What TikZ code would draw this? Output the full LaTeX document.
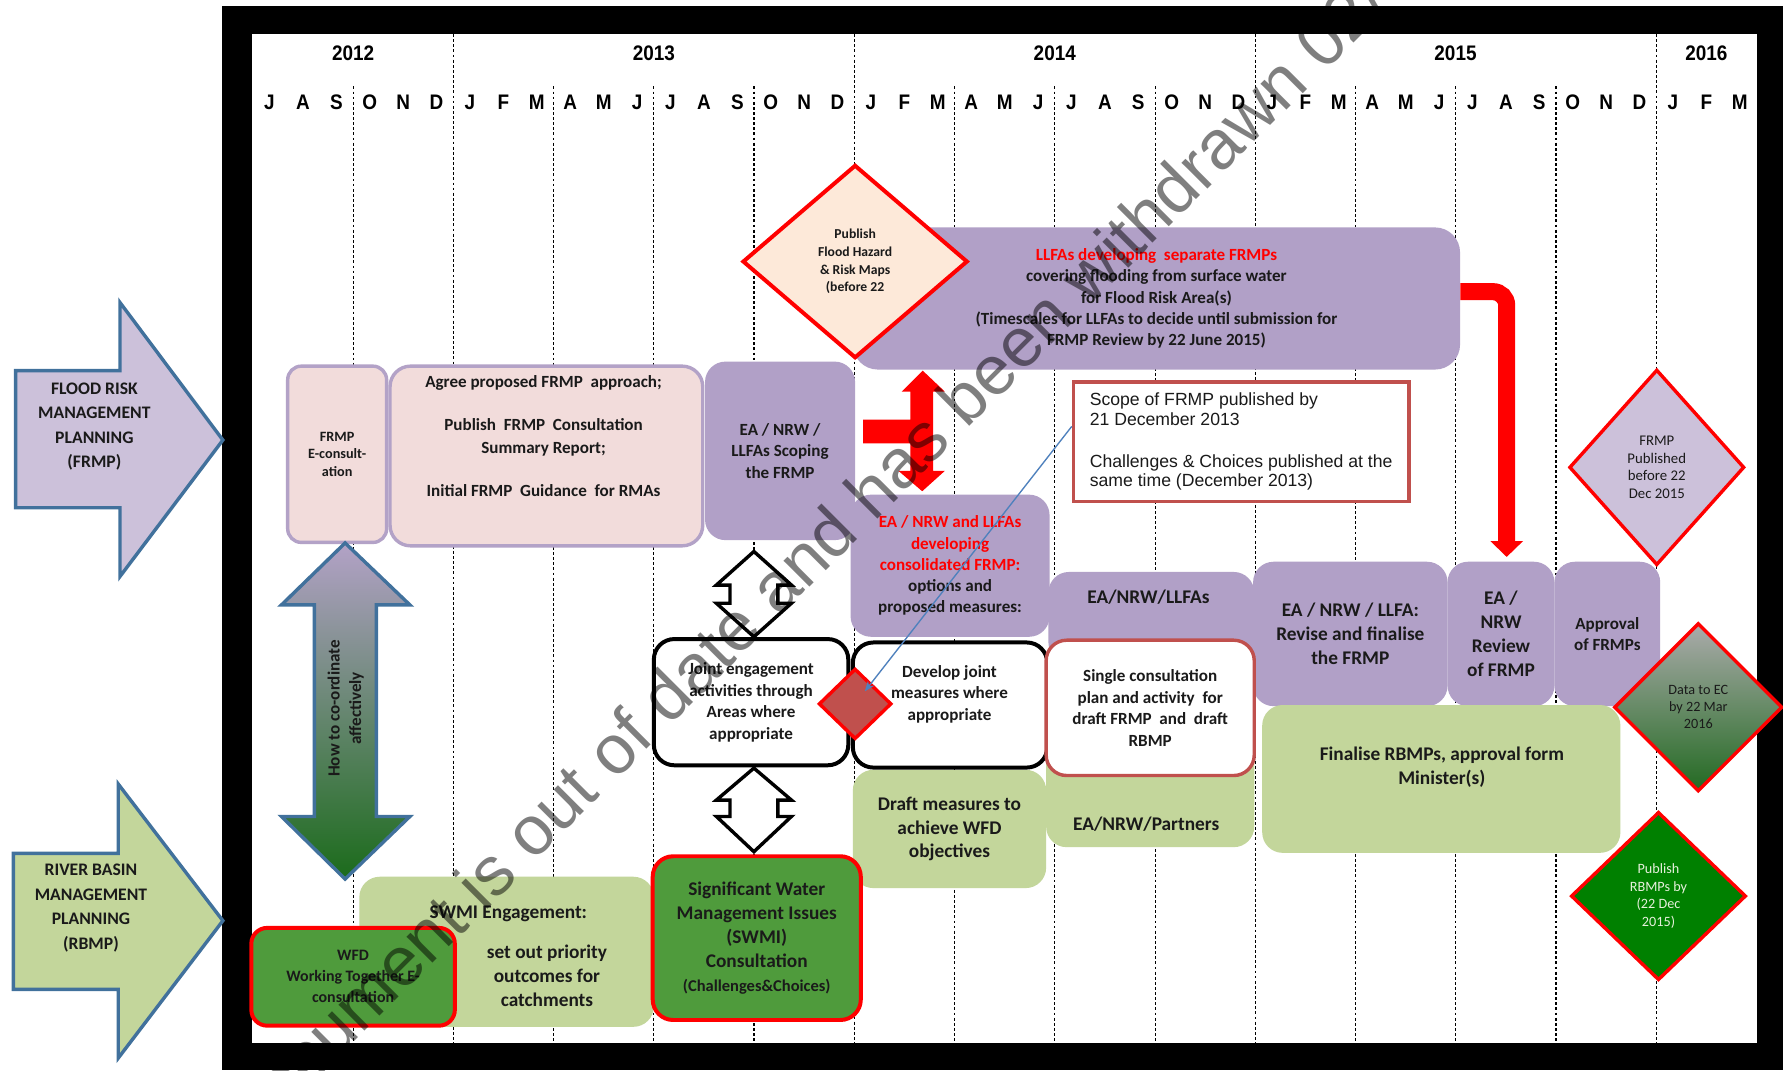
\documentclass[tikz,border=0pt]{standalone}
\usepackage{fontspec}
\setmainfont{Carlito}
\newfontfamily\arialfont{Liberation Sans}
\newfontfamily\narrowfont[FakeStretch=0.9]{Liberation Sans}
\usetikzlibrary{arrows.meta,shapes.geometric}
\newcommand\setfs[2]{\fontsize{#1}{#2}\selectfont}
\definecolor{purp}{HTML}{B1A0C7}
\definecolor{lav}{HTML}{CCC1DA}
\definecolor{lavline}{HTML}{B3A2C7}
\definecolor{pinkfill}{HTML}{F2DCDB}
\definecolor{lgreen}{HTML}{C3D69B}
\definecolor{mgreen}{HTML}{4F9B3C}
\definecolor{dgreen}{HTML}{008000}
\definecolor{dred}{HTML}{C0504D}
\definecolor{peach}{HTML}{FDE9D9}
\definecolor{arrowblue}{HTML}{41719C}
\definecolor{connblue}{HTML}{4F81BD}
\definecolor{txt}{HTML}{1A1A1A}
\definecolor{gtop}{HTML}{B3A2C7}
\definecolor{gmid}{HTML}{98AD78}
\definecolor{gbot}{HTML}{1B6B1B}
\definecolor{dtop}{HTML}{ABABAB}
\definecolor{dmid}{HTML}{86A764}
\definecolor{dbot}{HTML}{236A22}
\definecolor{paletext}{HTML}{E6F0DC}
\begin{document}
\begin{tikzpicture}[x=1pt,y=-1pt,
  bx/.style={rounded corners=18pt, inner sep=0pt, align=center, text=txt},
  pbox/.style={bx, fill=purp},
  gbox/.style={bx, fill=lgreen},
  wbox/.style={bx, fill=white, draw=black, line width=3.5pt},
  txtst/.style={inner sep=0pt, align=center, text=txt},
  dia/.style={diamond, inner sep=0pt, align=center, draw=red, line width=3.5pt, text=txt},
  monthst/.style={inner sep=0pt, font=\narrowfont\bfseries\setfs{18.5}{18.5}},
  gridln/.style={line width=1pt, dash pattern=on 2.5pt off 2pt},
  bigarrow/.style={draw=arrowblue, line width=3pt, line join=miter},
  hollowarr/.style={draw=black, fill=white, line width=3pt, line join=miter}]
\useasboundingbox (0,0) rectangle (1568,941);
% frame
\fill[black] (195,5) rectangle (1568,941);
\fill[white] (222,30) rectangle (1545,917);
% grid lines
\foreach \x in {398.6,751.3,1103.9,1456.6} \draw[gridln] (\x,30) -- (\x,917);
\foreach \x in {310.5,486.8,575.0,663.1,839.5,927.6,1015.8,1192.1,1280.3,1368.4} \draw[gridln] (\x,76) -- (\x,917);
% years and months
\node[monthst] (y2012) at (310.5,47) {2012};
\node[monthst] (y2013) at (575,47) {2013};
\node[monthst] (y2014) at (927.6,47) {2014};
\node[monthst] (y2015) at (1280,47) {2015};
\node[monthst] (y2016) at (1500.6,47) {2016};
\foreach \m [count=\i from 0] in {J,A,S,O,N,D,J,F,M,A,M,J,J,A,S,O,N,D,J,F,M,A,M,J,J,A,S,O,N,D,J,F,M,A,M,J,J,A,S,O,N,D,J,F,M}
  \node[monthst] (mon\i) at ({237+\i*29.386},90) {\m};
% left arrows
\draw[bigarrow, fill=lav] (13.8,326) -- (105.5,326) -- (105.5,266) -- (196,387) -- (105.5,507) -- (105.5,446.5) -- (13.8,446.5) -- cycle;
\node[txtst, font=\bfseries\setfs{15.5}{21.5}] (frmpT) at (83,375) {FLOOD RISK\\MANAGEMENT\\PLANNING\\(FRMP)};
\draw[bigarrow, fill=lgreen] (11.7,750.5) -- (104,750.5) -- (104,689.5) -- (196,809.7) -- (104,930.5) -- (104,870) -- (11.7,870) -- cycle;
\node[txtst, font=\bfseries\setfs{15.5}{21.5}] (rbmpT) at (80,798.5) {RIVER BASIN\\MANAGEMENT\\PLANNING\\(RBMP)};
% FRMP row
\node[bx, fill=pinkfill, draw=lavline, line width=3pt, rounded corners=12pt, minimum width=87, minimum height=155, font=\bfseries\setfs{12.5}{15.5}] (econs) at (296.5,399.5) {FRMP\\E-consult-\\ation};
\node[bx, fill=pinkfill, draw=lavline, line width=3pt, minimum width=275, minimum height=158] (agree) at (480.5,401) {};
\node[txtst, font=\bfseries\setfs{15}{21}] (agreeT) at (478,383.5) {Agree proposed FRMP \ approach;\\[16pt]Publish \ FRMP \ Consultation\\Summary Report;\\[16pt]Initial FRMP \ Guidance \ for RMAs};
\node[pbox, minimum width=132, minimum height=157, font=\bfseries\setfs{15}{19}] (scoping) at (686,396.5) {EA / NRW /\\LLFAs Scoping\\the FRMP};
\node[pbox, rounded corners=22pt, minimum width=534, minimum height=125, font=\bfseries\setfs{15}{18.8}] (llfa) at (1017,262.5) {\textcolor{red}{LLFAs developing \ separate FRMPs}\\covering flooding from surface water\\for Flood Risk Area(s)\\(Timescales for LLFAs to decide until submission for\\FRMP Review by 22 June 2015)};
\node[dia, fill=peach, minimum width=198, minimum height=170, font=\bfseries\setfs{12}{15.5}] (pubmaps) at (752,230) {Publish\\Flood Hazard\\\& Risk Maps\\(before 22};
% purple process row
\node[pbox, minimum width=175, minimum height=125, font=\bfseries\setfs{15}{18.7}] (consol) at (835.5,497.5) {\textcolor{red}{EA / NRW and LLFAs}\\\textcolor{red}{developing}\\\textcolor{red}{consolidated FRMP:}\\options and\\proposed measures:};
\node[pbox, minimum width=181, minimum height=80] (eanrw) at (1012.5,543) {};
\node[txtst, font=\bfseries\setfs{17}{21}] (eanrwT) at (1010,525) {EA/NRW/LLFAs};
\node[pbox, minimum width=171, minimum height=127, font=\bfseries\setfs{17}{21}] (revise) at (1187.5,557.5) {EA / NRW / LLFA:\\Revise and finalise\\the FRMP};
\node[pbox, minimum width=94, minimum height=127, font=\bfseries\setfs{17}{21}] (review) at (1320,557.5) {EA /\\NRW\\Review\\of FRMP};
\node[pbox, minimum width=93, minimum height=127, font=\bfseries\setfs{15}{18}] (approval) at (1413.5,557.5) {Approval\\of FRMPs};
% scope text box
\node[draw=dred, fill=white, line width=3pt, minimum width=295, minimum height=105, inner sep=0pt, align=left, text=txt, font=\arialfont\setfs{15.5}{17}] (scope) at (1091.5,388.5) {Scope of FRMP published by\\21 December 2013\\[20pt]Challenges \& Choices published at the\\same time (December 2013)};
% green rows
\node[gbox, minimum width=183, minimum height=105] (partners) at (1011.5,692.5) {};
\node[txtst, font=\bfseries\setfs{17}{21}] (partnersT) at (1008,725) {EA/NRW/Partners};
\node[gbox, minimum width=170, minimum height=104, font=\bfseries\setfs{17}{21}] (draft) at (835,729) {Draft measures to\\achieve WFD\\objectives};
\node[gbox, minimum width=315, minimum height=130] (finalise) at (1267.5,685) {};
\node[txtst, font=\bfseries\setfs{17}{21}] (finaliseT) at (1268,674.5) {Finalise RBMPs, approval form\\Minister(s)};
\node[gbox, minimum width=259, minimum height=132] (swmiE) at (445.5,837) {};
\node[txtst, font=\bfseries\setfs{17}{21}] (swmiEA) at (447,804) {SWMI Engagement:};
\node[txtst, font=\bfseries\setfs{17}{21}] (swmiEB) at (481,858) {set out priority\\outcomes for\\catchments};
\node[bx, fill=mgreen, draw=red, line width=3.5pt, rounded corners=14pt, minimum width=179, minimum height=86, font=\bfseries\setfs{14}{18.5}] (wfd) at (310.5,859) {WFD\\Working Together E-\\consultation};
\node[bx, fill=mgreen, draw=red, line width=3.5pt, minimum width=183, minimum height=144, font=\bfseries\setfs{17}{21}] (swmiC) at (665.5,825) {Significant Water\\Management Issues\\(SWMI)\\Consultation\\{\setfs{14.5}{18}(Challenges\&Choices)}};
% white joint boxes
\node[wbox, minimum width=171, minimum height=111, font=\bfseries\setfs{15}{19}] (joint) at (660.5,617.5) {Joint engagement\\activities through\\Areas where\\appropriate};
\node[wbox, minimum width=171, minimum height=110] (develop) at (835.5,620) {};
\node[txtst, font=\bfseries\setfs{15}{19}] (developT) at (835,610.5) {Develop joint\\measures where\\appropriate};
\node[bx, fill=white, draw=dred, line width=3pt, minimum width=183, minimum height=119, font=\bfseries\setfs{15}{19}] (single) at (1011.5,622.5) {Single consultation\\plan and activity \ for\\draft FRMP \ and \ draft\\RBMP};
% diamonds
\node[dia, fill=dred, line width=3pt, minimum width=64, minimum height=62] (reddiam) at (752,619) {};
\node[dia, fill=lav, line width=3pt, minimum width=154, minimum height=172, font=\setfs{13}{15.7}] (frmppub) at (1457,411) {FRMP\\Published\\before 22\\Dec 2015};
\node[dia, top color=dtop, middle color=dmid, bottom color=dbot, line width=3pt, minimum width=148, minimum height=148, font=\setfs{12.5}{15}] (dataec) at (1493.5,622) {Data to EC\\by 22 Mar\\2016};
\node[dia, fill=dgreen, line width=3pt, minimum width=154, minimum height=148, text=paletext, font=\setfs{12.5}{15.5}] (pubrbmp) at (1458.5,788) {Publish\\RBMPs by\\(22 Dec\\2015)};
% coordinate arrow
\draw[bigarrow, top color=gtop, middle color=gmid, bottom color=gbot] (303.5,477.5) -- (360.5,532) -- (331,532) -- (331,718) -- (360.5,718) -- (303.5,773) -- (247.5,718) -- (276.5,718) -- (276.5,532) -- (247.5,532) -- cycle;
\node[txtst, rotate=90, font=\bfseries\setfs{15}{19}] (howT) at (304,623) {How to co-ordinate\\affectively};
% hollow double arrows
\draw[hollowarr] (663,485) -- (696,514.5) -- (684,514.5) -- (684,530.5) -- (696,530.5) -- (663,560) -- (630,530.5) -- (642,530.5) -- (642,514.5) -- (630,514.5) -- cycle;
\draw[hollowarr] (663,675.5) -- (696,703.6) -- (684,703.6) -- (684,718) -- (696,718) -- (663,749) -- (630,718) -- (642,718) -- (642,703.6) -- (630,703.6) -- cycle;
% red T arrow
\fill[red] (811.5,326) -- (831,344.5) -- (820.6,344.5) -- (820.6,414) -- (831,414) -- (811,432) -- (790,414) -- (800.5,414) -- (800.5,390) -- (759,390) -- (759,369) -- (800.5,369) -- (800.5,344.5) -- (793,344.5) -- cycle;
% connectors
\draw[red, line width=15pt, rounded corners=12pt, -{Triangle[width=28pt,length=14pt]}, shorten >=4pt] ([yshift=6pt]llfa.east) -| ([xshift=5pt]review.north);
\draw[connblue, line width=1.2pt, -{Stealth[length=9pt,width=7pt]}] ([yshift=13.5pt]scope.west) -- ([shift={(8.5pt,11pt)}]reddiam.center);
% watermark
\node[rotate=45, anchor=base west, inner sep=0pt, text=black, text opacity=0.5, font=\arialfont\setfs{61}{61}] (wm) at (131,1097) {This document is out of date and has been withdrawn 02/};
\end{tikzpicture}
\end{document}
